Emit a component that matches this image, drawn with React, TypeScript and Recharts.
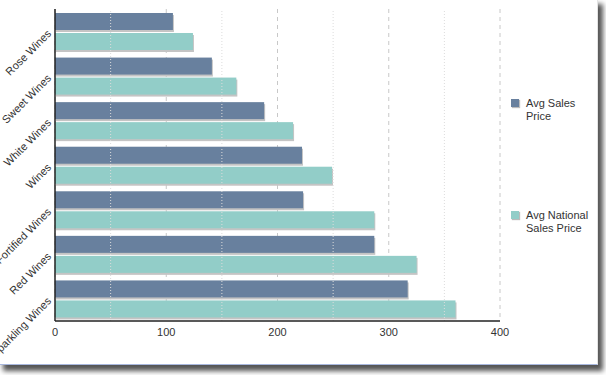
import { BarChart, Bar, XAxis, YAxis, CartesianGrid, ReferenceLine } from 'recharts'

const categories = ['Rose Wines', 'Sweet Wines', 'White Wines', 'Wines', 'Fortified Wines', 'Red Wines', 'Sparkling Wines']
const avgSales = [106, 141, 188, 222, 223, 287, 317]
const avgNational = [124, 163, 214, 249, 287, 325, 360]
const xTicks = [0, 100, 200, 300, 400]
const minorTicks = [50, 150, 250, 350]

const seriesNames = ['Avg Sales Price', 'Avg National Sales Price']
const legendLines = [['Avg Sales', 'Price'], ['Avg National', 'Sales Price']]
const COLORS = ['#68809E', '#92CDC8']

const data = categories.map((name, i) => ({
  name,
  avgSales: avgSales[i],
  avgNational: avgNational[i],
}))

const FONT = '"Liberation Sans", Arial, sans-serif'

function ShadowBar(props: any) {
  const { x, y, width, height, fill } = props
  if (!width || width <= 0) return null
  return (
    <g>
      <rect x={x + 1} y={y + 2} width={width} height={height} fill="#c4c4c4" />
      <rect x={x} y={y} width={width} height={height} fill={fill} />
    </g>
  )
}

function CategoryTick(props: any) {
  const { x, y, payload } = props
  const tx = x + 5
  const ty = y + 3
  return (
    <text
      x={tx}
      y={ty}
      textAnchor="end"
      fontSize={11}
      fontFamily={FONT}
      fill="#333"
      transform={`rotate(-45, ${tx}, ${ty})`}
    >
      {payload.value}
    </text>
  )
}

function LegendBox() {
  return (
    <div style={{ position: 'absolute', left: 511, top: 99, width: 85, fontFamily: FONT, fontSize: 11, color: '#333', lineHeight: '12.5px' }}>
      {legendLines.map((lines, i) => (
        <div key={seriesNames[i]} style={{ position: 'relative', height: i === 0 ? 112 : 30 }}>
          <span
            style={{
              position: 'absolute',
              left: 0,
              top: 0,
              width: 8,
              height: 8,
              background: COLORS[i],
              boxShadow: '1px 1px 1px #bbb',
            }}
          />
          <div style={{ position: 'absolute', left: 15, top: -2 }}>
            {lines.map((l) => (
              <div key={l}>{l}</div>
            ))}
          </div>
        </div>
      ))}
    </div>
  )
}

export default function App() {
  return (
    <div style={{ position: 'fixed', left: 0, top: 0, width: 606, height: 375, background: '#fff', overflow: 'hidden' }}>
      <div
        style={{
          position: 'absolute',
          left: -2,
          top: -2,
          width: 599,
          height: 366,
          background: '#fff',
          borderBottom: '1px solid #a9b8de',
          borderRight: '1px solid #e4e4e4',
          boxShadow: '5px 6px 5px #555',
        }}
      >
        <div style={{ position: 'absolute', left: 2, top: 2 }}>
          <BarChart
            width={597}
            height={365}
            data={data}
            layout="vertical"
            margin={{ top: 9, right: 97, bottom: 24, left: 0 }}
            barSize={17}
            barGap={3}
          >
            <CartesianGrid horizontal={false} stroke="#c8c8c8" strokeDasharray="4 4" />
            {minorTicks.map((t) => (
              <ReferenceLine key={t} x={t} stroke="#dcdcdc" strokeDasharray="1 2" />
            ))}
            <XAxis
              type="number"
              domain={[0, 400]}
              ticks={xTicks}
              tickLine={false}
              axisLine={{ stroke: '#222', strokeWidth: 1.5 }}
              tick={{ fontSize: 11, fontFamily: FONT, fill: '#333' }}
              tickMargin={1}
              height={20}
            />
            <YAxis
              type="category"
              dataKey="name"
              width={55}
              tickLine={false}
              axisLine={{ stroke: '#222', strokeWidth: 1.5 }}
              tick={<CategoryTick />}
              interval={0}
            />
            <Bar dataKey="avgSales" name={seriesNames[0]} fill={COLORS[0]} shape={<ShadowBar />} isAnimationActive={false} />
            <Bar dataKey="avgNational" name={seriesNames[1]} fill={COLORS[1]} shape={<ShadowBar />} isAnimationActive={false} />
          </BarChart>
          <LegendBox />
        </div>
      </div>
    </div>
  )
}
